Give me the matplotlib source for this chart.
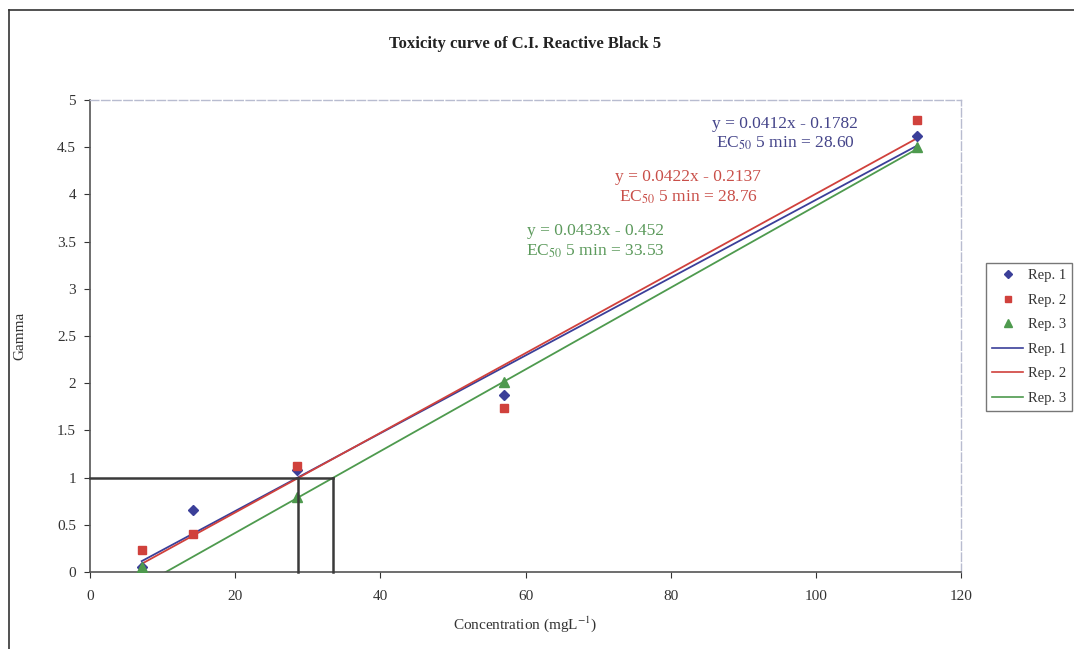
import numpy as np
import matplotlib
matplotlib.use("Agg")
import matplotlib.pyplot as plt
from matplotlib.lines import Line2D

plt.rcParams['font.family'] = ['Liberation Serif', 'DejaVu Serif']
plt.rcParams['mathtext.fontset'] = 'stix'

# data
conc = [7.125, 14.25, 28.5, 57, 114]
rep1 = [0.05, 0.66, 1.08, 1.88, 4.62]
rep2 = [0.23, 0.40, 1.12, 1.74, 4.79]
rep3 = [0.05, np.nan, 0.80, 2.01, 4.50]
slopes = [0.0412, 0.0422, 0.0433]
intercepts = [-0.1782, -0.2137, -0.452]
ec50 = [28.60, 28.76, 33.53]
eq_labels = ["y = 0.0412x - 0.1782", "y = 0.0422x - 0.2137", "y = 0.0433x - 0.452"]
names = ["Rep. 1", "Rep. 2", "Rep. 3"]

colors = ['#3b3f99', '#d0413c', '#4e9a4e']
text_colors = ['#45458a', '#c94f49', '#5c9a5c']
markers = ['D', 's', '^']
msizes = [5, 6, 6.5]

fig = plt.figure(figsize=(10.74, 6.49), dpi=100)
ax = fig.add_axes([0.0838, 0.1186, 0.8110, 0.7273])

# outer frame
fig.add_artist(Line2D([9/1074, 9/1074], [0, 1 - 10/649], transform=fig.transFigure, color='#333333', lw=1.2))
fig.add_artist(Line2D([9/1074, 1], [1 - 10/649, 1 - 10/649], transform=fig.transFigure, color='#333333', lw=1.2))

series = [rep1, rep2, rep3]
xs = np.array([min(conc), max(conc)])
for i in range(3):
    ax.plot(xs, slopes[i] * xs + intercepts[i], color=colors[i], lw=1.3, zorder=2)
for i in range(3):
    ax.plot(conc, series[i], linestyle='none', marker=markers[i], ms=msizes[i],
            color=colors[i], zorder=3)

# EC50 reference lines
ax.plot([0, ec50[2]], [1, 1], color='#3a3a3a', lw=1.8, zorder=4, clip_on=False)
ax.plot([ec50[0], ec50[0]], [0, 1], color='#3a3a3a', lw=1.8, zorder=4, clip_on=False)
ax.plot([ec50[2], ec50[2]], [0, 1], color='#3a3a3a', lw=1.8, zorder=4, clip_on=False)

# equation labels
label_pos = [(95.8, 4.64), (82.4, 4.07), (69.6, 3.50)]
for i in range(3):
    ax.text(label_pos[i][0], label_pos[i][1],
            eq_labels[i] + "\nEC$_{50}$ 5 min = %.2f" % ec50[i],
            color=text_colors[i], fontsize=12.5, ha='center', va='center',
            linespacing=1.25)

ax.set_xlim(0, 120)
ax.set_ylim(0, 5)
ax.set_xticks(range(0, 121, 20))
ax.set_yticks(np.arange(0, 5.01, 0.5))
ax.set_yticklabels(["0", "0.5", "1", "1.5", "2", "2.5", "3", "3.5", "4", "4.5", "5"])
ax.tick_params(direction='out', length=4, labelsize=11, colors='#333333', pad=6)
ax.tick_params(axis='x', pad=9)

for s in ['left', 'bottom']:
    ax.spines[s].set_color('#555555')
    ax.spines[s].set_linewidth(1.2)
for s in ['top', 'right']:
    ax.spines[s].set_color('#b8bcd0')
    ax.spines[s].set_linewidth(1.0)
    ax.spines[s].set_linestyle((0, (6, 2)))

ax.set_xlabel("Concentration (mgL$^{-1}$)", fontsize=11, color='#333333', labelpad=8)
ax.set_ylabel("Gamma", fontsize=11, color='#333333', labelpad=22)
fig.text((90 + 961) / 2 / 1074, 1 - 44/649, "Toxicity curve of C.I. Reactive Black 5",
         fontsize=12, fontweight='bold', ha='center', va='center', color='#222222')

handles = []
for i in range(3):
    handles.append(Line2D([], [], linestyle='none', marker=markers[i], ms=msizes[i] - 1,
                          color=colors[i], label=names[i]))
for i in range(3):
    handles.append(Line2D([], [], color=colors[i], lw=1.2, label=names[i]))
leg = fig.legend(handles=handles, loc='center right', bbox_to_anchor=(1072/1074, 1 - 337/649),
                 fontsize=10.5, frameon=True, fancybox=False, handlelength=2.1,
                 labelspacing=0.78, borderpad=0.4, handletextpad=0.35, borderaxespad=0)
leg.get_frame().set_edgecolor('#555555')
leg.get_frame().set_linewidth(1.0)
for t in leg.get_texts():
    t.set_color('#333333')

fig.savefig("out.png", dpi=100)
